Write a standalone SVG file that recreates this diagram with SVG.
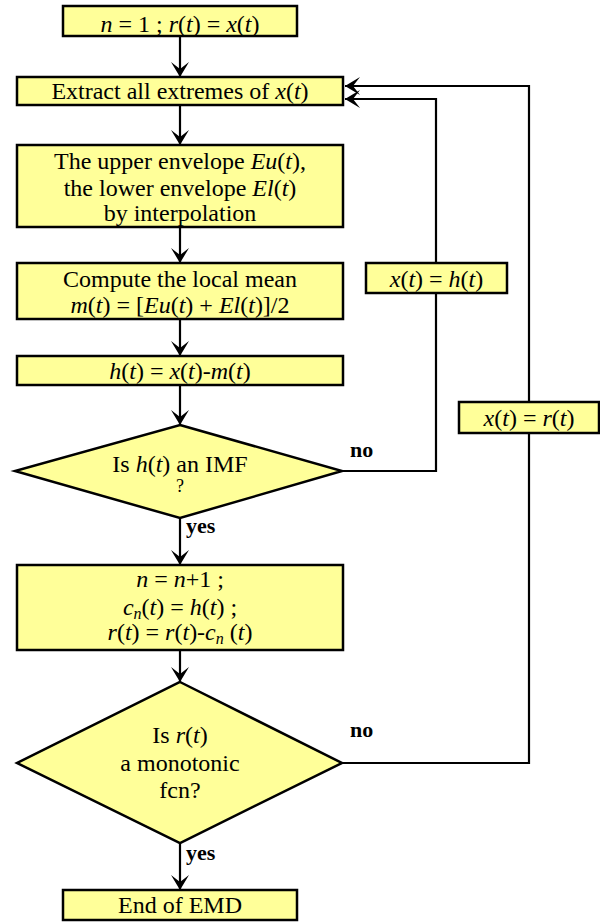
<svg xmlns="http://www.w3.org/2000/svg" width="600" height="922" viewBox="0 0 600 922">
<style>
.box{fill:#FFFF99;stroke:#000;stroke-width:2.5}
.t{font-family:"Liberation Serif","DejaVu Serif","Times New Roman",serif;font-size:24px;fill:#000;text-anchor:middle}
.i{font-style:italic}
.lbl{font-family:"Liberation Serif","DejaVu Serif","Times New Roman",serif;font-size:22px;font-weight:bold;fill:#000}
.ln{fill:none;stroke:#000;stroke-width:2.2}
</style>
<defs>
<marker id="ah" markerUnits="userSpaceOnUse" markerWidth="20" markerHeight="20" viewBox="-16 -10 17 20" refX="0" refY="0" orient="auto">
<path d="M0,0 L-15,-9 L-8,0 L-15,9 Z" fill="#000"/>
</marker>
</defs>
<rect width="600" height="922" fill="#fff"/>
<g id="connectors">
<line class="ln" x1="180" y1="36" x2="180" y2="77" marker-end="url(#ah)"/>
<line class="ln" x1="180" y1="105" x2="180" y2="145" marker-end="url(#ah)"/>
<line class="ln" x1="180" y1="227" x2="180" y2="263" marker-end="url(#ah)"/>
<line class="ln" x1="180" y1="319" x2="180" y2="356" marker-end="url(#ah)"/>
<line class="ln" x1="180" y1="385" x2="180" y2="425" marker-end="url(#ah)"/>
<line class="ln" x1="180" y1="518" x2="180" y2="565" marker-end="url(#ah)"/>
<line class="ln" x1="180" y1="650" x2="180" y2="682" marker-end="url(#ah)"/>
<line class="ln" x1="180" y1="843" x2="180" y2="890" marker-end="url(#ah)"/>
<polyline class="ln" points="342,471 436,471 436,99 345,99" marker-end="url(#ah)"/>
<polyline class="ln" points="342,763 529,763 529,86 345,86" marker-end="url(#ah)"/>
<text class="lbl" x="350" y="457">no</text>
<text class="lbl" x="186" y="533">yes</text>
<text class="lbl" x="350" y="737">no</text>
<text class="lbl" x="186" y="860">yes</text>
</g>
<g id="start">
<rect class="box" x="63" y="6" width="234" height="30"/>
<text class="t" x="180" y="32"><tspan class="i">n</tspan> = 1 ; <tspan class="i">r</tspan>(<tspan class="i">t</tspan>) = <tspan class="i">x</tspan>(<tspan class="i">t</tspan>)</text>
</g>
<g id="extract">
<rect class="box" x="17" y="77" width="326" height="28"/>
<text class="t" x="180" y="99">Extract all extremes of <tspan class="i">x</tspan>(<tspan class="i">t</tspan>)</text>
</g>
<g id="envelope">
<rect class="box" x="17" y="145" width="326" height="82"/>
<text class="t" x="180" y="169">The upper envelope <tspan class="i">Eu</tspan>(<tspan class="i">t</tspan>),</text>
<text class="t" x="180" y="196">the lower envelope <tspan class="i">El</tspan>(<tspan class="i">t</tspan>)</text>
<text class="t" x="180" y="221">by interpolation</text>
</g>
<g id="mean">
<rect class="box" x="17" y="263" width="326" height="56"/>
<text class="t" x="180" y="287">Compute the local mean</text>
<text class="t" x="180" y="313"><tspan class="i">m</tspan>(<tspan class="i">t</tspan>) = [<tspan class="i">Eu</tspan>(<tspan class="i">t</tspan>) + <tspan class="i">El</tspan>(<tspan class="i">t</tspan>)]/2</text>
</g>
<g id="hcalc">
<rect class="box" x="17" y="356" width="326" height="29"/>
<text class="t" x="180" y="379"><tspan class="i">h</tspan>(<tspan class="i">t</tspan>) = <tspan class="i">x</tspan>(<tspan class="i">t</tspan>)-<tspan class="i">m</tspan>(<tspan class="i">t</tspan>)</text>
</g>
<g id="isimf">
<polygon class="box" points="180,425 342,471 180,518 15,471"/>
<text class="t" x="180" y="472">Is <tspan class="i">h</tspan>(<tspan class="i">t</tspan>) an IMF</text>
<text class="t" x="180" y="492" style="font-size:18px">?</text>
</g>
<g id="update">
<rect class="box" x="17" y="565" width="326" height="85"/>
<text class="t" x="180" y="587"><tspan class="i">n</tspan> = <tspan class="i">n</tspan>+1 ;</text>
<text class="t" x="180" y="615"><tspan class="i">c</tspan><tspan class="i" style="font-size:16px" baseline-shift="-4">n</tspan>(<tspan class="i">t</tspan>) = <tspan class="i">h</tspan>(<tspan class="i">t</tspan>) ;</text>
<text class="t" x="180" y="640"><tspan class="i">r</tspan>(<tspan class="i">t</tspan>) = <tspan class="i">r</tspan>(<tspan class="i">t</tspan>)-<tspan class="i">c</tspan><tspan class="i" style="font-size:16px" baseline-shift="-4">n</tspan> (<tspan class="i">t</tspan>)</text>
</g>
<g id="ismono">
<polygon class="box" points="180,682 342,763 180,843 17,763"/>
<text class="t" x="180" y="743">Is <tspan class="i">r</tspan>(<tspan class="i">t</tspan>)</text>
<text class="t" x="180" y="771">a monotonic</text>
<text class="t" x="180" y="798">fcn?</text>
</g>
<g id="end">
<rect class="box" x="63" y="890" width="234" height="30"/>
<text class="t" x="180" y="913">End of EMD</text>
</g>
<g id="xh">
<rect class="box" x="366" y="263" width="141" height="30"/>
<text class="t" x="436.5" y="287"><tspan class="i">x</tspan>(<tspan class="i">t</tspan>) = <tspan class="i">h</tspan>(<tspan class="i">t</tspan>)</text>
</g>
<g id="xr">
<rect class="box" x="459" y="402" width="140" height="31"/>
<text class="t" x="529" y="426"><tspan class="i">x</tspan>(<tspan class="i">t</tspan>) = <tspan class="i">r</tspan>(<tspan class="i">t</tspan>)</text>
</g>
</svg>
